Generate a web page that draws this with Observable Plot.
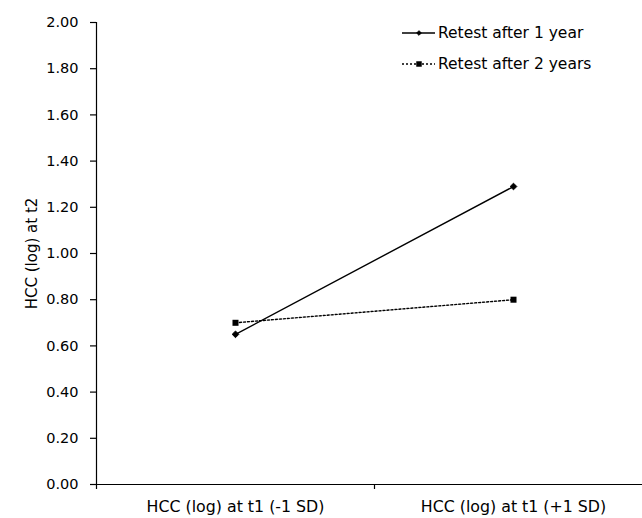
<!DOCTYPE html>
<html>
<head>
<meta charset="utf-8">
<script src="https://cdn.jsdelivr.net/npm/d3@7"></script>
<script src="https://cdn.jsdelivr.net/npm/@observablehq/plot@0.6"></script>
<style>
  html, body { margin: 0; padding: 0; background: #fff; }
  #chart svg { display: block; }
</style>
</head>
<body>
<div id="chart"></div>
<script>
const categories = ["HCC (log) at t1 (-1 SD)", "HCC (log) at t1 (+1 SD)"];
const series = ["Retest after 1 year", "Retest after 2 years"];
const year1 = [0.65, 1.29];
const year2 = [0.70, 0.80];
const yTicks = [0, 0.2, 0.4, 0.6, 0.8, 1.0, 1.2, 1.4, 1.6, 1.8, 2.0];

const rows = [];
categories.forEach((c, i) => {
  rows.push({series: series[0], pos: i + 0.5, value: year1[i]});
  rows.push({series: series[1], pos: i + 0.5, value: year2[i]});
});
const r1 = rows.filter(d => d.series === series[0]);
const r2 = rows.filter(d => d.series === series[1]);
const catRows = categories.map((c, i) => ({label: c, pos: i + 0.5}));
const boundaries = d3.range(categories.length + 1);

const font = "'DejaVu Sans', sans-serif";

const plot = Plot.plot({
  width: 642,
  height: 518,
  marginLeft: 96,
  marginRight: 0,
  marginTop: 22,
  marginBottom: 34,
  style: {fontFamily: font, fontSize: "14px", color: "#000", background: "#fff"},
  x: {domain: [0, 2], range: [96, 652], axis: null},
  y: {domain: [0, 2], axis: null},
  marks: [
    Plot.axisY({ticks: yTicks, tickFormat: d3.format(".2f"), tickSize: 6, tickPadding: 12, label: null, stroke: "#000", strokeWidth: 1.2, fontSize: 14.5}),
    Plot.frame({anchor: "left", stroke: "#000", strokeWidth: 1.2}),
    Plot.ruleY([0], {stroke: "#000", strokeWidth: 1.2}),
    Plot.axisX({ticks: boundaries, tickFormat: () => "", tickSize: 5, stroke: "#000", strokeWidth: 1.2, label: null}),
    Plot.text(catRows, {x: "pos", y: 0, text: "label", dy: 22, fontSize: 15.8, fill: "#000", fontFamily: font}),
    Plot.text(["HCC (log) at t2"], {frameAnchor: "left", textAnchor: "middle", dx: -64, rotate: -90, fontSize: 15, fill: "#000", fontFamily: font}),
    Plot.line(r1, {x: "pos", y: "value", stroke: "#000", strokeWidth: 1.4}),
    Plot.line(r2, {x: "pos", y: "value", stroke: "#000", strokeWidth: 1.4, strokeDasharray: "2,2"}),
    Plot.dot(r1, {x: "pos", y: "value", symbol: "diamond2", r: 3, fill: "#000", stroke: "#000", strokeWidth: 1}),
    Plot.dot(r2, {x: "pos", y: "value", symbol: "square", r: 3.4, fill: "#000"})
  ]
});

// Legend (inside plot area, top right)
const svg = d3.select(plot);
const legend = svg.append("g").attr("font-family", font).attr("font-size", 15.5).attr("text-anchor", "start");
const items = [
  {label: series[0], dash: null, sym: "diamond", y: 33},
  {label: series[1], dash: "2,2", sym: "square", y: 64}
];
items.forEach(it => {
  legend.append("line").attr("x1", 402).attr("x2", 435).attr("y1", it.y).attr("y2", it.y)
    .attr("stroke", "#000").attr("stroke-width", 1.4).attr("stroke-dasharray", it.dash);
  if (it.sym === "diamond") {
    legend.append("path").attr("d", d3.symbol(d3.symbolDiamond2, 14)()).attr("transform", `translate(419,${it.y})`).attr("fill", "#000").attr("stroke", "#000");
  } else {
    legend.append("path").attr("d", d3.symbol(d3.symbolSquare, 30)()).attr("transform", `translate(419,${it.y})`).attr("fill", "#000");
  }
  legend.append("text").attr("x", 438).attr("y", it.y).attr("dy", "0.35em").attr("fill", "#000").attr("text-anchor", "start").text(it.label);
});

document.getElementById("chart").appendChild(plot);
</script>
</body>
</html>
